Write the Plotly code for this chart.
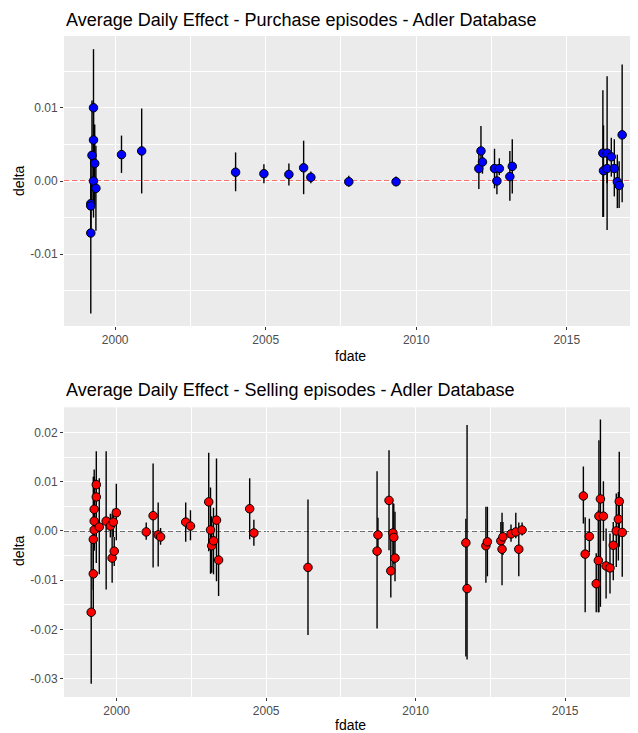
import plotly.graph_objects as go

# ---------------- Purchase episodes ----------------
buy_date = [1999.28, 1999.28, 1999.23, 1999.32, 1999.28, 1999.36, 1999.19, 1999.19, 1999.19,
            2000.21, 2000.88, 2004.00, 2004.94, 2005.77, 2006.26, 2006.50,
            2007.76, 2009.33,
            2012.08, 2012.15, 2012.20, 2012.60, 2012.68, 2012.76, 2013.11, 2013.19,
            2016.20, 2016.22, 2016.34, 2016.34, 2016.48, 2016.58, 2016.68, 2016.74, 2016.84]
buy_delta = [0.0100, 0.0056, 0.0035, 0.0024, 0.0000, -0.0010, -0.0031, -0.0034, -0.0071,
             0.0036, 0.0041, 0.0012, 0.0010, 0.0009, 0.0018, 0.0005,
             -0.0001, -0.0001,
             0.0017, 0.0041, 0.0026, 0.0017, 0.0000, 0.0017, 0.0006, 0.0020,
             0.0038, 0.0014, 0.0038, 0.0017, 0.0033, 0.0017, -0.0001, -0.0006, 0.0063]
buy_lo = [0.0020, 0.0005, -0.0040, -0.0030, -0.0050, -0.0068, -0.0066, -0.0064, -0.0181,
          0.0011, -0.0017, -0.0014, -0.0003, -0.0006, -0.0018, -0.0003,
          -0.0008, -0.0007,
          -0.0011, 0.0017, 0.0010, -0.0010, -0.0018, 0.0008, -0.0027, -0.0017,
          -0.0049, -0.0049, -0.0067, -0.0003, 0.0006, -0.0021, -0.0037, -0.0037, -0.0029]
buy_hi = [0.0180, 0.0107, 0.0110, 0.0077, 0.0050, 0.0048, 0.0004, -0.0004, 0.0040,
          0.0062, 0.0099, 0.0039, 0.0023, 0.0024, 0.0055, 0.0013,
          0.0007, 0.0006,
          0.0040, 0.0075, 0.0043, 0.0044, 0.0013, 0.0031, 0.0041, 0.0057,
          0.0124, 0.0076, 0.0143, 0.0035, 0.0059, 0.0057, 0.0036, 0.0027, 0.0159]

# ---------------- Selling episodes ----------------
sell_date = [1999.15, 1999.22, 1999.22, 1999.25, 1999.25, 1999.25, 1999.32, 1999.32, 1999.42,
             1999.65, 1999.79, 1999.85, 1999.89, 1999.92, 1999.99,
             2000.99, 2001.22, 2001.39, 2001.47, 2002.31, 2002.47,
             2003.08, 2003.14, 2003.18, 2003.24, 2003.34, 2003.41, 2004.45, 2004.59, 2006.40,
             2008.71, 2008.74, 2009.11, 2009.17, 2009.24, 2009.27, 2009.31,
             2011.68, 2011.72, 2012.35, 2012.40, 2012.85, 2012.89, 2012.92, 2013.19, 2013.35,
             2013.45, 2013.56,
             2015.61, 2015.67, 2015.81, 2016.04, 2016.11, 2016.13, 2016.18, 2016.28, 2016.37,
             2016.50, 2016.61, 2016.71, 2016.78, 2016.81, 2016.91]
sell_delta = [-0.0165, -0.0087, -0.0017, 0.0044, 0.0020, 0.0002, 0.0094, 0.0069, 0.0008,
              0.0020, 0.0010, -0.0055, 0.0018, -0.0041, 0.0037,
              -0.0002, 0.0031, -0.0008, -0.0012, 0.0018, 0.0010,
              0.0059, 0.0002, -0.0030, -0.0020, 0.0022, -0.0059, 0.0045, -0.0004, -0.0074,
              -0.0041, -0.0008, 0.0062, -0.0081, -0.0004, -0.0013, -0.0055,
              -0.0024, -0.0117, -0.0030, -0.0022, -0.0020, -0.0037, -0.0012, -0.0006, -0.0002,
              -0.0037, 0.0002,
              0.0071, -0.0047, -0.0011, -0.0107, -0.0060, 0.0030, 0.0065, 0.0030, -0.0071,
              -0.0075, -0.0029, 0.0000, 0.0024, 0.0060, -0.0003]
sell_lo = [-0.0310, -0.0170, -0.0120, -0.0020, -0.0040, -0.0035, 0.0025, -0.0065, -0.0088,
           -0.0119, -0.0013, -0.0105, -0.0012, -0.0071, -0.0019,
           -0.0018, -0.0074, -0.0072, -0.0028, -0.0022, -0.0019,
           -0.0041, -0.0087, -0.0085, -0.0088, -0.0102, -0.0132, -0.0017, -0.0030, -0.0211,
           -0.0198, -0.0045, -0.0039, -0.0135, -0.0083, -0.0067, -0.0102,
           -0.0255, -0.0261, -0.0105, -0.0092, -0.0045, -0.0110, -0.0049, -0.0022, -0.0015,
           -0.0092, -0.0009,
           0.0015, -0.0165, -0.0043, -0.0165, -0.0165, -0.0165, -0.0154, -0.0020, -0.0137,
           -0.0127, -0.0100, -0.0073, -0.0060, -0.0032, -0.0093]
sell_hi = [-0.0020, 0.0000, 0.0110, 0.0125, 0.0090, 0.0110, 0.0162, 0.0105, 0.0107,
           0.0162, 0.0035, 0.0035, 0.0045, -0.0012, 0.0096,
           0.0017, 0.0137, 0.0058, 0.0006, 0.0058, 0.0042,
           0.0159, 0.0088, 0.0030, 0.0047, 0.0147, 0.0014, 0.0107, 0.0023, 0.0064,
           0.0121, 0.0027, 0.0164, 0.0000, 0.0057, 0.0055, 0.0039,
           0.0025, 0.0215, 0.0049, 0.0049, 0.0018, 0.0037, 0.0018, 0.0013, 0.0037,
           0.0017, 0.0017,
           0.0131, 0.0028, 0.0025, -0.0045, 0.0042, 0.0184, 0.0226, 0.0101, 0.0005,
           -0.0005, 0.0018, 0.0076, 0.0079, 0.0161, 0.0066]

year_ticks = [2000, 2005, 2010, 2015]
buy_yticks = [-0.01, 0.0, 0.01]
buy_ylabels = ["-0.01", "0.00", "0.01"]
sell_yticks = [-0.03, -0.02, -0.01, 0.0, 0.01, 0.02]
sell_ylabels = ["-0.03", "-0.02", "-0.01", "0.00", "0.01", "0.02"]

# The page body adds an 8px margin, so the figure is shrunk and offset to compensate.
OFF = 8
W, H = 638 - OFF, 733 - OFF
ML, MR, MT, MB = 64 - OFF, 2, 36 - OFF, 36
PW = W - ML - MR
PH = H - MT - MB


def py2paper(screen_y):
    return (H - MB - (screen_y - OFF)) / PH


def px2paper(screen_x):
    return (screen_x - OFF - ML) / PW


FONT = "Liberation Sans, Arial, sans-serif"

fig = go.Figure()


def add_series(dates, delta, lo, hi, color, xa, ya):
    plus = [h - d for h, d in zip(hi, delta)]
    minus = [d - l for d, l in zip(delta, lo)]
    fig.add_trace(go.Scatter(
        x=dates, y=delta, mode="markers", xaxis=xa, yaxis=ya,
        marker=dict(size=8.5, color=color, line=dict(color="black", width=1)),
        error_y=dict(type="data", array=plus, arrayminus=minus, symmetric=False,
                     color="black", thickness=1.4, width=0),
        showlegend=False, hoverinfo="x+y"))


add_series(buy_date, buy_delta, buy_lo, buy_hi, "#0000FF", "x", "y")
add_series(sell_date, sell_delta, sell_lo, sell_hi, "#FF0000", "x2", "y2")

axis_common = dict(
    showgrid=True, gridcolor="white", gridwidth=1.1,
    minor=dict(showgrid=True, gridcolor="white", gridwidth=0.5),
    zeroline=False, ticks="outside", ticklen=3, tickcolor="#333333", tickwidth=1,
    tickfont=dict(family=FONT, size=12, color="#4D4D4D"), showline=False,
)

top_dom = [py2paper(326), 1.0]
bot_dom = [0.0, py2paper(407.3)]

TITLE_FONT = dict(family=FONT, size=18, color="black")
AX_FONT = dict(family=FONT, size=14, color="black")

fig.update_layout(
    width=W, height=H,
    margin=dict(l=ML, r=MR, t=MT, b=MB),
    paper_bgcolor="white", plot_bgcolor="#EBEBEB",
    xaxis=dict(axis_common, domain=[0, 1], anchor="y", range=[1998.30, 2017.30],
               tickvals=year_ticks, minor_dtick=2.5, minor_tick0=2.5),
    yaxis=dict(axis_common, domain=top_dom, anchor="x", range=[-0.0198, 0.0198],
               tickvals=buy_yticks, ticktext=buy_ylabels, minor_dtick=0.005, minor_tick0=0.005),
    xaxis2=dict(axis_common, domain=[0, 1], anchor="y2", range=[1998.24, 2017.37],
                tickvals=year_ticks, minor_dtick=2.5, minor_tick0=2.5),
    yaxis2=dict(axis_common, domain=bot_dom, anchor="x2", range=[-0.0337, 0.0251],
                tickvals=sell_yticks, ticktext=sell_ylabels, minor_dtick=0.005, minor_tick0=0.005),
    shapes=[
        dict(type="line", xref="x domain", yref="y", x0=0, x1=1, y0=0, y1=0,
             line=dict(color="rgba(255,0,0,0.7)", width=1.6, dash="5px,3px"), layer="below"),
        dict(type="line", xref="x2 domain", yref="y2", x0=0, x1=1, y0=0, y1=0,
             line=dict(color="rgba(0,0,0,0.7)", width=1.6, dash="5px,3px"), layer="below"),
    ],
    annotations=[
        dict(text="Average Daily Effect - Purchase episodes - Adler Database",
             xref="paper", yref="paper", x=px2paper(64), y=py2paper(20), xanchor="left",
             yanchor="middle", showarrow=False, font=TITLE_FONT),
        dict(text="Average Daily Effect - Selling episodes - Adler Database",
             xref="paper", yref="paper", x=px2paper(64), y=py2paper(390), xanchor="left",
             yanchor="middle", showarrow=False, font=TITLE_FONT),
        dict(text="fdate", xref="paper", yref="paper", x=0.5, y=py2paper(356),
             xanchor="center", yanchor="middle", showarrow=False, font=AX_FONT),
        dict(text="fdate", xref="paper", yref="paper", x=0.5, y=py2paper(725),
             xanchor="center", yanchor="middle", showarrow=False, font=AX_FONT),
        dict(text="delta", xref="paper", yref="paper", x=px2paper(19), y=py2paper(181),
             xanchor="center", yanchor="middle", textangle=-90, showarrow=False, font=AX_FONT),
        dict(text="delta", xref="paper", yref="paper", x=px2paper(19), y=py2paper(551),
             xanchor="center", yanchor="middle", textangle=-90, showarrow=False, font=AX_FONT),
    ],
)

fig.write_html("out.html")
